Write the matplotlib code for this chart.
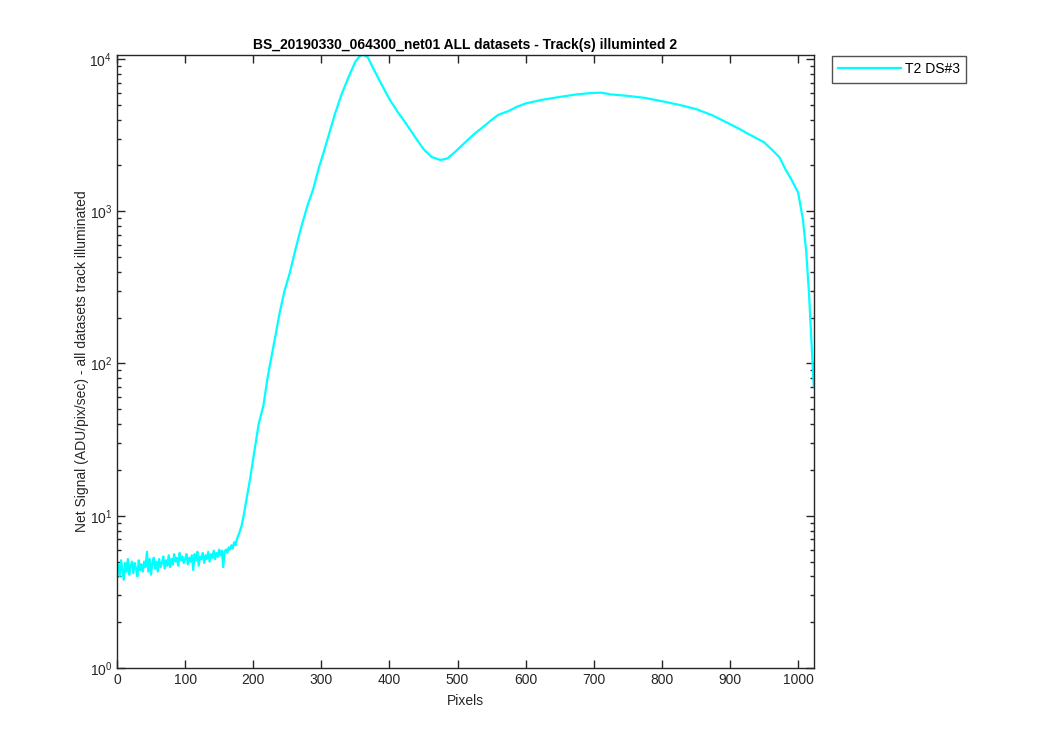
import matplotlib
matplotlib.use("Agg")
import matplotlib.pyplot as plt
from matplotlib.ticker import LogLocator, LogFormatterMathtext, MultipleLocator, NullFormatter

plt.rcParams['font.family'] = ['Liberation Sans', 'DejaVu Sans']
plt.rcParams['mathtext.fontset'] = 'custom'
plt.rcParams['mathtext.rm'] = 'Liberation Sans'
plt.rcParams['mathtext.default'] = 'regular'

# Noisy baseline (pixels 0..176, step 2)
noise_x = list(range(0, 178, 2))
noise_y = [4.2, 4.8, 4.0, 5.1, 4.4, 3.8, 4.9, 4.3, 5.2, 4.1, 4.7, 5.0, 4.2, 4.9, 4.5, 4.0,
           5.1, 4.4, 4.8, 4.3, 5.0, 4.6, 5.8, 4.3, 5.2, 4.1, 4.9, 5.3, 4.5, 5.0, 4.3, 5.2,
           4.6, 4.9, 5.4, 4.5, 5.1, 4.7, 5.5, 4.6, 5.2, 4.8, 5.6, 5.0, 5.3, 4.7, 5.7, 5.1,
           5.4, 4.9, 5.2, 5.6, 4.8, 5.3, 5.0, 5.5, 4.4, 5.6, 5.1, 5.8, 4.7, 5.4, 5.2, 5.7,
           4.9, 5.5, 5.2, 5.8, 5.0, 5.6, 5.3, 5.9, 5.2, 5.7, 5.4, 6.0, 5.5, 5.9, 4.6, 5.8,
           6.0, 5.7, 6.2, 6.0, 6.4, 6.1, 6.7, 6.4, 7.0]

# Smooth part of the signal
smooth_x = [180, 183, 186, 188, 195, 202, 208, 215, 221, 227, 233, 239, 246, 254, 262, 271,
            280, 288, 296, 305, 320, 330, 340, 350, 357, 362, 368, 375, 387, 400, 412,
            425, 437, 450, 462, 475, 485, 495, 510, 525, 540, 550, 560, 575, 587, 600, 625,
            650, 675, 700, 712, 725, 750, 775, 800, 825, 850, 875, 900, 914, 925, 950, 963,
            973, 981, 990, 1000, 1007, 1012, 1016, 1019, 1023]
smooth_y = [7.8, 8.6, 10.0, 11.3, 17, 27, 40, 53, 80, 112, 155, 217, 300, 397, 560, 800,
            1100, 1390, 1900, 2570, 4350, 5900, 7600, 9600, 10500, 10620, 10300, 8900, 7000, 5450, 4500,
            3730, 3100, 2560, 2270, 2170, 2220, 2420, 2800, 3230, 3650, 3980, 4300, 4550, 4850, 5100, 5400,
            5630, 5850, 5990, 6000, 5850, 5720, 5550, 5280, 5000, 4690, 4250, 3730, 3470, 3250, 2840, 2500,
            2250, 1900, 1620, 1330, 890, 540, 290, 160, 71]

pixels = noise_x + smooth_x
signal = noise_y + smooth_y

fig = plt.figure(figsize=(10.5, 7.5), dpi=100)
ax = fig.add_axes([0.1114, 0.1093, 0.6636, 0.8174])
ax.plot(pixels, signal, color=(0, 1, 1), lw=1.6, label='T2 DS#3')
ax.set_yscale('log')
ax.set_xlim(0, 1023)
ax.set_ylim(1, max(signal))

spine_c = (0.15, 0.15, 0.15)
for s in ax.spines.values():
    s.set_color(spine_c)
    s.set_linewidth(1.0)

ax.xaxis.set_major_locator(MultipleLocator(100))
ax.yaxis.set_major_locator(LogLocator(base=10, numticks=10))
ax.yaxis.set_major_formatter(LogFormatterMathtext())
ax.yaxis.set_minor_locator(LogLocator(base=10, subs=range(2, 10), numticks=20))
ax.yaxis.set_minor_formatter(NullFormatter())
ax.tick_params(which='both', direction='in', top=True, right=True, colors=spine_c,
               labelsize=10)
ax.tick_params(which='major', length=6, width=1)
ax.tick_params(which='minor', length=3, width=1)
for lbl in ax.get_xticklabels() + ax.get_yticklabels():
    lbl.set_color(spine_c)

ax.set_title('BS_20190330_064300_net01 ALL datasets - Track(s) illuminted 2',
             fontsize=10, fontweight='bold', pad=4)
ax.set_xlabel('Pixels', fontsize=10, color=spine_c, labelpad=5)
ax.set_ylabel('Net Signal (ADU/pix/sec) - all datasets track illuminated',
              fontsize=10, color=spine_c, labelpad=0.5)

leg = fig.legend(loc='upper left', bbox_to_anchor=(0.7924, 0.9253), fontsize=10,
                 frameon=True, fancybox=False, handlelength=4.5, borderpad=0.45,
                 handletextpad=0.3, borderaxespad=0)
leg.get_frame().set_edgecolor(spine_c)
leg.get_frame().set_linewidth(1.0)

fig.savefig('out.png', dpi=100)
